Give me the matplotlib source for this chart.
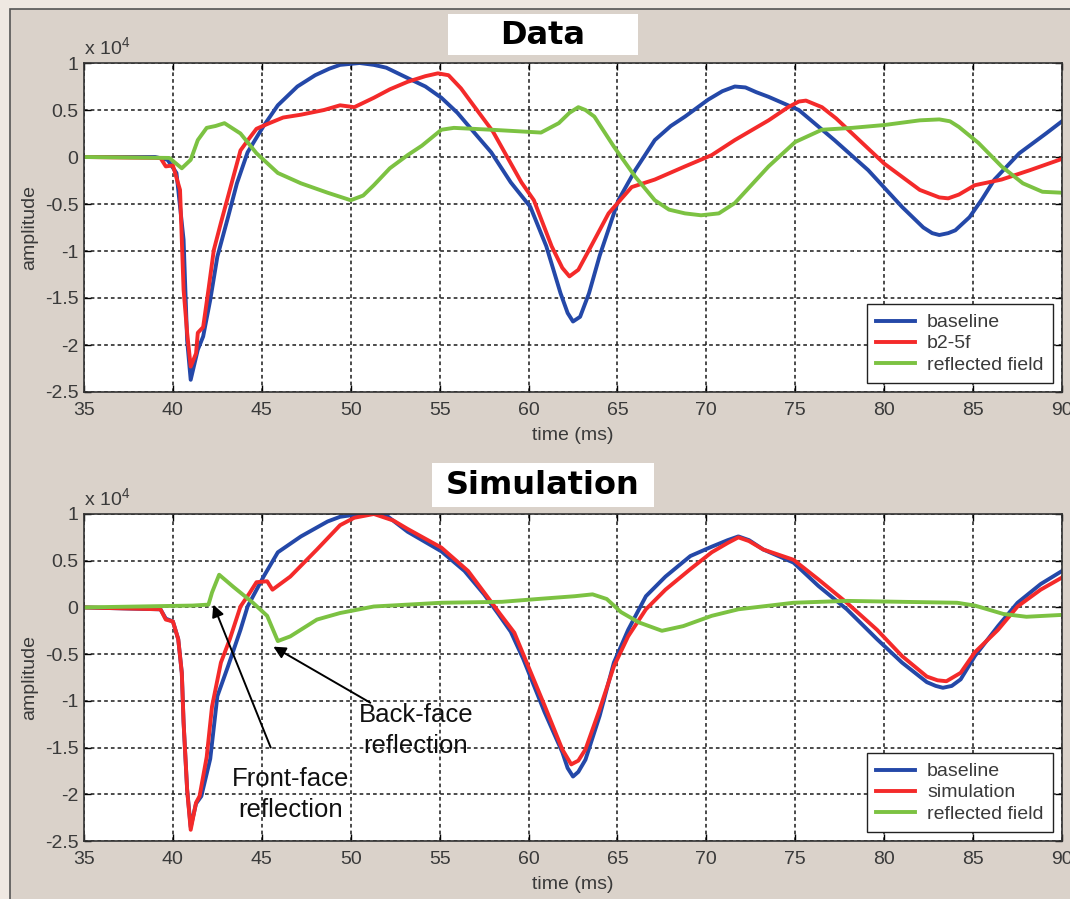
import numpy as np
import matplotlib.pyplot as plt
from matplotlib.patches import Rectangle

plt.rcParams['font.family'] = ['Liberation Sans', 'DejaVu Sans']
plt.rcParams['axes.unicode_minus'] = False

# amplitudes are in units of 1e4
# --- Data panel
t_base1 = [35, 39.0, 39.7, 40.2, 40.6, 40.8, 41.0, 41.4, 41.7, 42.1, 42.5, 43.1, 43.6, 44.2, 45.1, 45.9,
           47.0, 48.0, 48.8, 49.4, 50.5, 51.3, 52.0, 53.2, 54.2, 55.1, 56.0, 56.9, 57.9, 59.0, 60.1, 61.0,
           61.8, 62.2, 62.5, 62.9, 63.4, 64.0, 65.05, 66.0, 67.1, 68.0, 68.8, 70.1, 70.9, 71.6, 72.2, 72.8,
           73.5, 75.2, 77.2, 79.1, 81.0, 82.2, 82.7, 83.1, 83.6, 84.0, 84.8, 85.5, 86.2, 87.6, 89.1, 90]
a_base1 = [0, 0, -0.03, -0.17, -0.88, -1.95, -2.37, -2.05, -1.91, -1.52, -1.06, -0.64, -0.28, 0.05, 0.33, 0.55,
           0.75, 0.87, 0.94, 0.98, 1.0, 0.98, 0.95, 0.84, 0.75, 0.63, 0.47, 0.27, 0.05, -0.27, -0.53, -0.95,
           -1.45, -1.66, -1.75, -1.7, -1.45, -1.05, -0.46, -0.14, 0.18, 0.33, 0.43, 0.61, 0.7, 0.75, 0.74, 0.69,
           0.64, 0.5, 0.18, -0.14, -0.53, -0.75, -0.81, -0.83, -0.81, -0.78, -0.64, -0.45, -0.24, 0.04, 0.25, 0.38]

t_b25f = [35, 39.3, 39.6, 40.0, 40.4, 40.5, 40.6, 40.8, 41.0, 41.3, 41.4, 41.7, 42.0, 42.3, 42.7, 43.2, 43.8,
          44.3, 44.7, 45.3, 46.2, 47.2, 48.5, 49.4, 50.2, 51.3, 52.2, 53.2, 54.2, 54.9, 55.5, 56.2, 56.9, 58.0,
          59.6, 60.3, 61.3, 61.9, 62.3, 62.8, 63.4, 64.5, 65.8, 67.1, 68.8, 70.3, 71.6, 73.5, 74.6, 75.2, 75.6,
          76.5, 77.3, 78.2, 80.0, 82.0, 83.1, 83.6, 84.2, 85.1, 86.6, 88.2, 90]
a_b25f = [0, -0.01, -0.1, -0.09, -0.35, -0.88, -1.41, -1.87, -2.23, -2.09, -1.87, -1.81, -1.41, -0.99, -0.7, -0.35, 0.07,
          0.2, 0.3, 0.35, 0.42, 0.45, 0.5, 0.55, 0.53, 0.63, 0.72, 0.8, 0.86, 0.89, 0.87, 0.73, 0.55, 0.27,
          -0.27, -0.46, -0.95, -1.18, -1.27, -1.2, -0.99, -0.6, -0.32, -0.24, -0.1, 0.02, 0.18, 0.39, 0.53, 0.59, 0.6,
          0.53, 0.41, 0.25, -0.07, -0.35, -0.43, -0.44, -0.4, -0.3, -0.24, -0.14, -0.02]

t_refl1 = [35, 39.8, 40.5, 41.0, 41.4, 41.9, 42.4, 42.9, 43.8, 44.7, 45.9, 47.2, 48.7, 50.0, 50.7, 51.3, 52.2,
           53.2, 54.0, 55.1, 55.8, 57.9, 60.7, 61.7, 62.3, 62.8, 63.2, 63.7, 64.8, 66.0, 67.1, 67.9, 68.8, 69.7,
           70.7, 71.6, 73.5, 75.0, 76.5, 78.2, 80.0, 82.0, 83.1, 83.7, 84.2, 85.3, 86.6, 87.8, 88.9, 90]
a_refl1 = [0, -0.01, -0.12, -0.03, 0.18, 0.31, 0.33, 0.36, 0.25, 0.04, -0.17, -0.28, -0.38, -0.46, -0.41, -0.3, -0.12,
           0.02, 0.12, 0.29, 0.31, 0.29, 0.26, 0.36, 0.47, 0.53, 0.5, 0.43, 0.11, -0.21, -0.46, -0.56, -0.6, -0.62,
           -0.6, -0.49, -0.1, 0.16, 0.29, 0.31, 0.34, 0.39, 0.4, 0.38, 0.32, 0.15, -0.1, -0.28, -0.37, -0.38]

# --- Simulation panel
t_base2 = [35, 39.3, 39.6, 40.0, 40.3, 40.5, 40.6, 40.8, 41.0, 41.3, 41.6, 42.1, 42.5, 43.1, 43.8, 44.2, 45.1,
           45.9, 47.2, 48.7, 49.4, 50.5, 51.9, 53.2, 55.1, 56.4, 57.5, 58.3, 59.0, 59.7, 60.9, 61.9, 62.2, 62.5,
           62.8, 63.2, 64.0, 64.8, 65.6, 66.6, 67.7, 69.1, 70.3, 71.2, 71.8, 72.4, 73.2, 74.9, 76.3, 77.9, 79.6,
           81.0, 82.4, 82.9, 83.3, 83.8, 84.3, 85.1, 86.4, 87.5, 88.8, 90]
a_base2 = [0, -0.02, -0.12, -0.15, -0.34, -0.7, -1.23, -1.95, -2.35, -2.1, -2.02, -1.62, -0.95, -0.63, -0.24, 0.01, 0.33,
           0.59, 0.76, 0.92, 0.97, 1.0, 1.0, 0.81, 0.6, 0.39, 0.14, -0.07, -0.26, -0.55, -1.12, -1.55, -1.72, -1.81,
           -1.76, -1.63, -1.16, -0.59, -0.24, 0.12, 0.33, 0.55, 0.65, 0.72, 0.76, 0.72, 0.62, 0.48, 0.23, -0.02, -0.34,
           -0.59, -0.8, -0.84, -0.86, -0.84, -0.77, -0.52, -0.2, 0.05, 0.25, 0.39]

t_sim = [35, 39.3, 39.6, 40.0, 40.3, 40.5, 40.6, 40.8, 41.0, 41.3, 41.5, 41.9, 42.2, 42.7, 43.2, 43.8, 44.3,
         44.7, 45.3, 45.6, 46.6, 48.1, 49.4, 50.2, 51.3, 52.4, 53.2, 55.1, 56.6, 57.7, 58.4, 59.2, 59.7, 60.9,
         61.9, 62.4, 62.8, 63.2, 64.0, 64.8, 65.6, 66.6, 67.7, 69.1, 70.3, 71.2, 71.8, 72.4, 73.2, 74.9, 76.3,
         77.9, 79.6, 81.0, 82.4, 83.0, 83.5, 84.3, 85.1, 86.4, 87.5, 88.8, 90]
a_sim = [0, -0.02, -0.13, -0.15, -0.34, -0.7, -1.23, -1.95, -2.38, -2.09, -2.02, -1.6, -1.06, -0.59, -0.34, 0.01, 0.15,
         0.27, 0.28, 0.19, 0.33, 0.62, 0.88, 0.96, 1.0, 0.93, 0.84, 0.64, 0.39, 0.11, -0.07, -0.27, -0.5, -1.05,
         -1.52, -1.68, -1.64, -1.52, -1.09, -0.63, -0.31, -0.02, 0.19, 0.41, 0.59, 0.69, 0.75, 0.71, 0.62, 0.51, 0.3,
         0.05, -0.24, -0.52, -0.74, -0.78, -0.79, -0.7, -0.48, -0.24, 0.01, 0.19, 0.32]

t_refl2 = [35, 41.1, 42.0, 42.2, 42.6, 43.4, 44.5, 45.3, 45.9, 46.6, 48.1, 49.4, 51.3, 55.1, 58.5, 60.5, 62.6,
           63.6, 64.4, 65.2, 66.2, 67.5, 68.7, 70.3, 71.8, 74.9, 77.9, 84.1, 85.1, 86.7, 88.0, 90]
a_refl2 = [0, 0.02, 0.03, 0.16, 0.35, 0.22, 0.05, -0.09, -0.36, -0.31, -0.13, -0.06, 0.01, 0.05, 0.06, 0.09, 0.12,
           0.14, 0.09, -0.05, -0.16, -0.25, -0.2, -0.09, -0.02, 0.05, 0.07, 0.05, 0.02, -0.07, -0.1, -0.08]

xticks = np.arange(35, 91, 5)
yticks = [-2.5, -2, -1.5, -1, -0.5, 0, 0.5, 1]
ytick_labels = ['-2.5', '-2', '-1.5', '-1', '-0.5', '0', '0.5', '1']

blue = '#2448a8'
red = '#f42a2a'
green = '#7cc242'
txt = '#3a3a3a'

W, H = 1070, 899
fig = plt.figure(figsize=(W / 100, H / 100), dpi=100, facecolor='#efe8e2')


def box(x0, y0, x1, y1, **kw):
    fig.add_artist(Rectangle((x0 / W, 1 - y1 / H), (x1 - x0) / W, (y1 - y0) / H,
                             transform=fig.transFigure, **kw))


box(10, 9, 1080, 910, facecolor='#dad2ca', edgecolor='#555555', linewidth=1.2, zorder=-10)


def setup(ax, h):
    ax.set_facecolor('white')
    ax.set_xlim(35, 90)
    ax.set_ylim(-2.5, 1)
    ax.set_xticks(xticks)
    ax.set_yticks(yticks)
    ax.set_yticklabels(ytick_labels)
    ax.set_axisbelow(True)
    ax.grid(True, color='#1a1a1a', linestyle=(0, (2.4, 2.0)), linewidth=1.1)
    ax.tick_params(direction='in', top=True, right=True, labelsize=14, labelcolor=txt,
                   length=5, width=1, pad=4)
    ax.tick_params(axis='x', pad=7)
    for s in ax.spines.values():
        s.set_linewidth(1.2)
        s.set_color('#333333')
    ax.set_ylabel('amplitude', fontsize=14, color=txt)
    ax.yaxis.set_label_coords(-0.047, 0.5)
    ax.set_xlabel('time (ms)', fontsize=14, color=txt)
    ax.xaxis.set_label_coords(0.5, -35 / h)
    ax.text(0, 1.012, r'x 10$^\mathregular{4}$', transform=ax.transAxes, fontsize=14,
            color=txt, ha='left', va='bottom')


ax1 = fig.add_axes([84 / W, 1 - 392 / H, 978 / W, 329 / H])
setup(ax1, 329)
ax1.plot(t_base1, a_base1, color=blue, lw=2.8, label='baseline')
ax1.plot(t_b25f, a_b25f, color=red, lw=2.8, label='b2-5f')
ax1.plot(t_refl1, a_refl1, color=green, lw=2.8, label='reflected field')

ax2 = fig.add_axes([84 / W, 1 - 841 / H, 978 / W, 327 / H])
setup(ax2, 327)
ax2.plot(t_base2, a_base2, color=blue, lw=2.8, label='baseline')
ax2.plot(t_sim, a_sim, color=red, lw=2.8, label='simulation')
ax2.plot(t_refl2, a_refl2, color=green, lw=2.8, label='reflected field')

for ax in (ax1, ax2):
    leg = ax.legend(loc='lower right', fontsize=14, handlelength=2.0, handletextpad=0.6,
                    labelspacing=0.18, borderpad=0.5, borderaxespad=0.45, fancybox=False,
                    framealpha=1, edgecolor='#222222')
    leg.get_frame().set_linewidth(1.0)
    for t in leg.get_texts():
        t.set_color(txt)

arrow = dict(arrowstyle='-|>', color='black', lw=1.4, mutation_scale=18, shrinkA=0, shrinkB=0)
ax2.annotate('', xy=(42.27, 0.03), xytext=(45.5, -1.5), arrowprops=arrow)
ax2.annotate('', xy=(45.65, -0.42), xytext=(51.1, -1.02), arrowprops=arrow)
ax2.text(46.6, -2.0, 'Front-face\nreflection', ha='center', va='center', fontsize=18.5,
         linespacing=1.35, color='#111111')
ax2.text(53.66, -1.32, 'Back-face\nreflection', ha='center', va='center', fontsize=18.5,
         linespacing=1.35, color='#111111')

# titles in white boxes
box(448, 14, 638, 55, facecolor='white', edgecolor='none')
box(432, 463, 654, 507, facecolor='white', edgecolor='none')
fig.text(543 / W, 1 - 35 / H, 'Data', fontsize=23, fontweight='bold', family='DejaVu Sans',
         ha='center', va='center')
fig.text(543 / W, 1 - 485 / H, 'Simulation', fontsize=23, fontweight='bold', family='DejaVu Sans',
         ha='center', va='center')

fig.savefig('out.png', dpi=100, facecolor=fig.get_facecolor())
